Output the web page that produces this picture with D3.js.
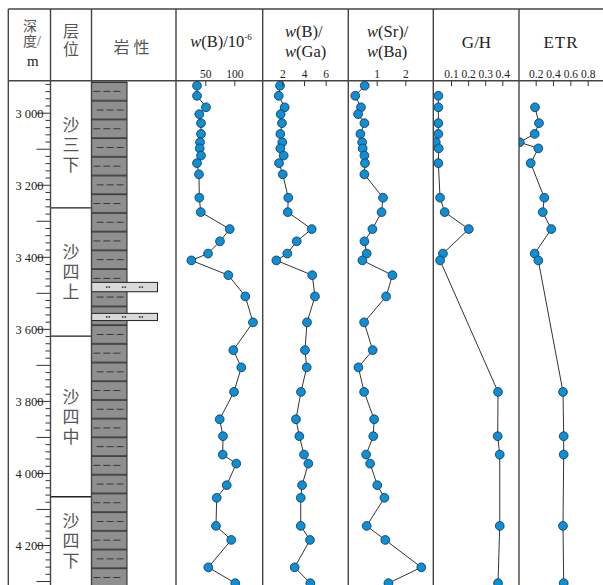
<!DOCTYPE html>
<html><head><meta charset="utf-8">
<script src="https://cdn.jsdelivr.net/npm/d3@7"></script>
<style>body{margin:0;background:#fff} svg{display:block}</style>
</head><body>
<script>
// ---------------- DATA ----------------
const depthMain = [2925,2953,2985,3004,3029,3059,3082,3099,3119,3140,3171,3236,3276,3323,3357,3391,3410,3451,3510,3582,3659,3707,3775,3851,3898,3949,3974,4034,4069,4147,4186,4262,4306];
const wB   = [35.7,35.7,51.2,39.7,42.6,42.6,40.9,40.3,42.6,35.7,39.1,39.7,42.1,92.1,75.3,54.7,25.9,89.7,119,132.2,98.3,112.1,99.5,74.8,80.5,80,103.4,86.9,69.7,68.4,94.8,55.2,101.7];
const wBGa = [1.79,1.67,2.22,1.85,1.97,1.82,2.0,1.82,2.13,1.70,2.04,2.55,2.50,4.71,3.33,2.46,1.45,4.76,5.01,4.28,4.09,4.25,3.72,3.26,3.57,4.0,4.40,3.82,3.70,3.70,4.55,3.14,4.58];
const wSrBa = [0.58,0.25,0.45,0.35,0.57,0.43,0.49,0.51,0.57,0.59,0.57,1.22,1.17,0.85,0.57,0.65,0.50,1.55,1.33,0.56,0.86,0.36,0.56,0.91,0.88,0.63,0.77,1.02,1.27,0.65,1.30,2.56,1.41];
const depthGH = [2953,2985,3029,3059,3082,3099,3140,3236,3276,3323,3391,3410,3775,3898,3949,4147,4306];
const gh = [0.026,0.026,0.026,0.026,0.011,0.028,0.026,0.036,0.063,0.204,0.053,0.036,0.375,0.373,0.385,0.385,0.375];
const depthETR = [2985,3029,3059,3082,3099,3140,3236,3276,3323,3391,3410,3775,3898,3949,4147,4306];
const etr = [0.192,0.238,0.188,0.015,0.23,0.142,0.299,0.281,0.38,0.188,0.23,0.515,0.523,0.523,0.515,0.523];

const strataNames = ["沙三下","沙四上","沙四中","沙四下"];
const strataTops = [2914,3264,3620,4066];
const strataBottoms = [3264,3620,4066,4311];
const sandTops = [3471,3557];
const sandBottoms = [3497,3577];
const depthLabels = [3000,3200,3400,3600,3800,4000,4200];
const ticksB = [50,100];
const ticksBGa = [2,4,6];
const ticksSrBa = [1,2];
const ticksGH = [0.1,0.2,0.3,0.4];
const ticksETR = [0.2,0.4,0.6,0.8];

// ---------------- LAYOUT ----------------
const W = 603, H = 585;
const topY = 9, headY = 80.7, dataTop = 82;
const edges = [8.3, 50.5, 91.5, 176, 262.7, 348.3, 433.3, 519];
const serif = "'Liberation Serif','Times New Roman',serif";
const cjk = "'Noto Sans CJK SC','Noto Sans CJK JP',sans-serif";

const svg = d3.select("body").append("svg").attr("width", W).attr("height", H);
const y = d3.scaleLinear().domain([3000, 4200]).range([112.7, 545]);

// pattern for mudstone
const defs = svg.append("defs");
const pat = defs.append("pattern").attr("id","mud").attr("patternUnits","userSpaceOnUse")
  .attr("x",91.5).attr("y",100.7).attr("width",36).attr("height",37.4);
pat.append("rect").attr("width",36).attr("height",37.4).attr("fill","#8f8f8f");
pat.append("rect").attr("y",-0.6).attr("width",36).attr("height",1.3).attr("fill","#222");
pat.append("rect").attr("y",18.1).attr("width",36).attr("height",1.3).attr("fill","#222");
pat.append("rect").attr("y",36.8).attr("width",36).attr("height",1.3).attr("fill","#222");
[[5.2,9.35],[1.8,28.05]].forEach(([x0,yy])=>{
  [0,10,20].forEach(o=>{
    pat.append("line").attr("x1",x0+o).attr("x2",x0+o+7).attr("y1",yy).attr("y2",yy)
      .attr("stroke","#333").attr("stroke-width",1);
  });
});

// ---------------- LITHOLOGY ----------------
svg.append("rect").attr("x",91.5).attr("y",dataTop).attr("width",35.5).attr("height",H-dataTop+5)
  .attr("fill","url(#mud)").attr("stroke","#222").attr("stroke-width",1);
sandTops.forEach((t,i)=>{
  const y0 = y(t), y1 = y(sandBottoms[i]);
  svg.append("rect").attr("x",91.5).attr("y",y0).attr("width",66).attr("height",y1-y0)
    .attr("fill","#d9d9d9").attr("stroke","#222").attr("stroke-width",1);
  [16.5,32.5,49.5].forEach(o=>{
    [-1.3,1.3].forEach(dx=>{
      svg.append("circle").attr("cx",91.5+o+dx).attr("cy",(y0+y1)/2).attr("r",0.9).attr("fill","#333");
    });
  });
});

// ---------------- STRATA ----------------
strataTops.forEach((t,i)=>{
  if(i>0) svg.append("line").attr("x1",edges[1]).attr("x2",edges[2]).attr("y1",y(t)).attr("y2",y(t))
    .attr("stroke","#222").attr("stroke-width",1.3);
  const c = (y(Math.max(t,2914)) + Math.min(y(strataBottoms[i]), 585))/2;
  svg.append("text").attr("x",71).attr("y",c+1.5).attr("text-anchor","middle")
    .attr("writing-mode","vertical-rl").attr("letter-spacing",3)
    .attr("font-family",cjk).attr("font-size",17).attr("fill","#555").text(strataNames[i]);
});

// ---------------- DEPTH AXIS ----------------
const loc = d3.formatLocale({decimal:".",thousands:" ",grouping:[3]});
const fmt = loc.format(",d");
const depthAxis = d3.axisLeft(y).tickValues(d3.range(2920, 4301, 20))
  .tickSize(5).tickFormat(d => depthLabels.includes(d) ? fmt(d) : "");
const gA = svg.append("g").attr("transform",`translate(${edges[1]},0)`).call(depthAxis);
gA.attr("font-family",serif);
gA.select(".domain").remove();
gA.selectAll(".tick line").attr("stroke","#333").attr("stroke-width",1)
  .attr("x2", d => d % 100 === 0 ? -14 : -5);
gA.selectAll(".tick text").attr("x",-7).attr("dy","0.36em")
  .style("font-family",serif).attr("font-size",12.5).attr("fill","#222");

// ---------------- DATA COLUMNS ----------------
const cols = [
  {depth:depthMain, vals:wB, dom:[0,100], rng:[176.3,234.3], ticks:ticksB, f:d3.format("d"), l:edges[3], r:edges[4]},
  {depth:depthMain, vals:wBGa, dom:[2,6], rng:[282.3,325.7], ticks:ticksBGa, f:d3.format("d"), l:edges[4], r:edges[5]},
  {depth:depthMain, vals:wSrBa, dom:[1,2], rng:[376.7,405.3], ticks:ticksSrBa, f:d3.format("d"), l:edges[5], r:edges[6]},
  {depth:depthGH, vals:gh, dom:[0.1,0.4], rng:[451,502.3], ticks:ticksGH, f:d3.format(".1f"), l:edges[6], r:edges[7]},
  {depth:depthETR, vals:etr, dom:[0.2,0.8], rng:[535.7,587.7], ticks:ticksETR, f:d3.format(".1f"), l:edges[7], r:W+10}
];
cols.forEach((c,ci)=>{
  const x = d3.scaleLinear().domain(c.dom).range(c.rng);
  defs.append("clipPath").attr("id","clip"+ci).append("rect")
    .attr("x",c.l).attr("y",headY).attr("width",c.r-c.l).attr("height",H-headY);
  const g = svg.append("g").attr("clip-path",`url(#clip${ci})`);
  const pts = c.depth.map((d,i)=>[x(c.vals[i]), y(d)]);
  g.append("path").attr("d", d3.line()(pts)).attr("fill","none").attr("stroke","#333").attr("stroke-width",1);
  g.selectAll("circle").data(pts).join("circle").attr("cx",d=>d[0]).attr("cy",d=>d[1]).attr("r",4.4)
    .attr("fill","#0a8fd8").attr("stroke","#1f2f3f").attr("stroke-width",0.8);
  const ax = d3.axisTop(x).tickValues(c.ticks).tickSize(5).tickPadding(3).tickFormat(c.f);
  const ga = svg.append("g").attr("transform","translate(0,86)").call(ax);
  ga.attr("font-family",serif);
  ga.select(".domain").remove();
  ga.selectAll(".tick line").attr("stroke","#333").attr("stroke-width",1);
  ga.selectAll(".tick text").style("font-family",serif).attr("font-size",11.5).attr("fill","#222");
});

// ---------------- FRAME ----------------
edges.forEach(e=>{
  svg.append("line").attr("x1",e).attr("x2",e).attr("y1",topY).attr("y2",H)
    .attr("stroke","#444").attr("stroke-width",1.4);
});
[topY, headY].forEach(v=>{
  svg.append("line").attr("x1",edges[0]).attr("x2",W).attr("y1",v).attr("y2",v)
    .attr("stroke","#444").attr("stroke-width",1.4);
});

// ---------------- HEADER TEXT ----------------
// 深度/m  (serif primary so line boxes stay compact; CJK glyphs fall back)
const hFont = "'Liberation Serif','Noto Sans CJK SC',serif";
svg.append("text").attr("x",23).attr("y",30.5).attr("font-family",hFont).attr("font-size",14)
  .attr("fill","#555").text("深");
svg.append("text").attr("x",23).attr("y",46).attr("font-family",hFont).attr("font-size",14)
  .attr("fill","#555").text("度/");
svg.append("text").attr("x",27).attr("y",66).attr("font-family",serif).attr("font-size",15)
  .attr("fill","#222").text("m");
// 层位
svg.append("text").attr("x",71).attr("y",41).attr("text-anchor","middle")
  .attr("writing-mode","vertical-rl").attr("letter-spacing",2)
  .attr("font-family",cjk).attr("font-size",16).attr("fill","#555").text("层位");
// 岩性
svg.append("text").attr("x",133.5).attr("y",53).attr("text-anchor","middle").attr("font-family",cjk)
  .attr("font-size",16).attr("fill","#555").attr("letter-spacing",4).text("岩性");

// w(B)/10^-6
const t1 = svg.append("text").attr("x",221).attr("y",47).attr("text-anchor","middle")
  .attr("font-family",serif).attr("font-size",16.5).attr("fill","#222");
t1.append("tspan").attr("font-style","italic").text("w");
t1.append("tspan").text("(B)/10");
t1.append("tspan").attr("font-size",9).attr("dy",-7).text("-6");

function wTwoLine(x, a, b){
  const t = svg.append("text").attr("text-anchor","start")
    .attr("font-family",serif).attr("font-size",16.5).attr("fill","#222");
  t.append("tspan").attr("x",x).attr("y",37).attr("font-style","italic").text("w");
  t.append("tspan").text(a);
  t.append("tspan").attr("x",x).attr("y",57).attr("font-style","italic").text("w");
  t.append("tspan").text(b);
}
wTwoLine(285,"(B)/","(Ga)");
wTwoLine(367,"(Sr)/","(Ba)");

svg.append("text").attr("x",476.5).attr("y",48).attr("text-anchor","middle").attr("font-family",serif)
  .attr("font-size",17).attr("fill","#222").text("G/H");
svg.append("text").attr("x",561).attr("y",48).attr("text-anchor","middle").attr("font-family",serif)
  .attr("font-size",17).attr("fill","#222").attr("letter-spacing",1).text("ETR");
</script>
</body></html>
